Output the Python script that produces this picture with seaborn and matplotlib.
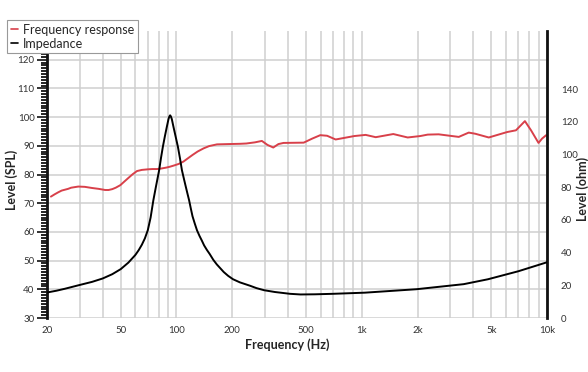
import matplotlib
matplotlib.use("Agg")
import matplotlib.pyplot as plt
from matplotlib.lines import Line2D
from matplotlib.ticker import FixedLocator, MultipleLocator, NullFormatter
import numpy as np
import pandas as pd
import seaborn as sns

# frequency response (dB SPL, left axis)
fr_freq = [21, 22, 23, 24, 26, 27, 29.5, 32, 35, 38, 41.2, 43, 45, 47, 49.8,
           52, 55, 58, 61.2, 65, 70, 74, 78.6, 83, 88, 92, 96.5, 103, 109,
           115, 122, 130, 140, 150, 165.5, 190, 221, 238, 265, 289, 310, 333,
           355, 378, 486, 540, 597, 650, 723, 912, 1050, 1190, 1480, 1770,
           2070, 2270, 2600, 3340, 3780, 4100, 4850, 6100, 6800, 7600, 8200,
           9000, 9400, 9900]
fr_level = [72.3, 73.1, 73.8, 74.4, 75.0, 75.4, 75.8, 75.7, 75.3, 75.0, 74.6,
            74.6, 74.9, 75.4, 76.3, 77.4, 78.8, 80.1, 81.2, 81.6, 81.8, 81.9,
            81.9, 82.1, 82.4, 82.7, 83.1, 83.7, 84.5, 85.6, 86.8, 88.0, 89.1,
            89.9, 90.5, 90.6, 90.7, 90.8, 91.2, 91.7, 90.3, 89.4, 90.6, 91.0,
            91.1, 92.5, 93.7, 93.5, 92.2, 93.4, 93.8, 93.0, 94.1, 92.9, 93.4,
            93.9, 94.0, 93.1, 94.6, 94.2, 92.9, 94.8, 95.4, 98.6, 95.4, 91.0,
            92.5, 93.7]

# impedance (ohm, right axis)
imp_freq = [20, 22.5, 25, 30, 35, 40, 45, 50, 55, 60, 62.5, 65, 67.5, 70,
            72.5, 75, 77.5, 80.6, 82.5, 84.4, 86.5, 88.7, 90.5, 91.5, 92.4,
            93.3, 94.4, 96.3, 98.5, 101.8, 104.5, 107, 109.5, 112, 114.5, 117,
            119.5, 122, 125.5, 129, 133, 137, 141, 146, 151, 158, 165, 180,
            190, 202, 220, 250, 270, 297, 340, 410, 467, 560, 700, 1040, 1970,
            3550, 4800, 7000, 10000]
imp_ohm = [15.6, 16.7, 17.9, 20.2, 22.1, 24.2, 26.8, 29.9, 33.9, 38.6, 41.5,
           44.8, 48.7, 53.7, 61.5, 72.0, 80.5, 90.4, 98.0, 104.7, 111.0, 117.0,
           121.6, 123.3, 124.0, 123.3, 121.6, 117.0, 112.0, 104.7, 97.5, 90.4,
           85.5, 80.8, 76.3, 72.0, 67.0, 62.3, 57.8, 53.7, 50.3, 47.4, 44.4,
           41.6, 39.2, 35.6, 32.8, 28.1, 25.8, 23.7, 21.8, 19.7, 18.3, 17.0,
           15.9, 14.8, 14.4, 14.5, 14.8, 15.5, 17.6, 20.7, 23.7, 28.6, 34.1]

x_major = [20, 50, 100, 200, 500, 1000, 2000, 5000, 10000]
x_labels = ["20", "50", "100", "200", "500", "1k", "2k", "5k", "10k"]
x_minor = [30, 40, 60, 70, 80, 90, 300, 400, 600, 700, 800, 900,
           3000, 4000, 6000, 7000, 8000, 9000]

RED = "#d8404a"

sns.set_style("white")
plt.rcParams["font.family"] = ["Lato", "DejaVu Sans"]
plt.rcParams["lines.solid_joinstyle"] = "round"

fig = plt.figure(figsize=(5.88, 3.72), dpi=100)
ax = fig.add_axes([47 / 588, 1 - 318 / 372, 500 / 588, 287 / 372])
ax2 = ax.twinx()

fr = pd.DataFrame({"freq": fr_freq, "level": fr_level})
imp = pd.DataFrame({"freq": imp_freq, "ohm": imp_ohm})
sns.lineplot(data=fr, x="freq", y="level", ax=ax, color=RED, lw=1.4,
             legend=False, zorder=3)
sns.lineplot(data=imp, x="freq", y="ohm", ax=ax2, color="black", lw=1.4,
             legend=False, zorder=3)

ax.set_xscale("log")
ax.set_xlim(20, 10000)
ax.set_ylim(30, 130)
ax2.set_ylim(0, 175.6)

ax.set_xticks(x_major, x_labels)
ax.xaxis.set_minor_locator(FixedLocator(x_minor))
ax.xaxis.set_minor_formatter(NullFormatter())
ax.set_yticks(np.arange(30, 130, 10))
ax.yaxis.set_minor_locator(MultipleLocator(1))

ax.grid(True, which="major", color="#cfcfcf", lw=1.1)
ax.grid(True, which="minor", axis="x", color="#cfcfcf", lw=1.1)
ax.set_axisbelow(True)

ax.tick_params(axis="x", which="both", length=0, labelsize=7, colors="#333333", pad=6)
ax.tick_params(axis="y", which="major", length=7, width=1.4, labelsize=7,
               colors="#333333", pad=2)
ax.tick_params(axis="y", which="minor", length=4.5, width=1.3, color="#111111")
ax2.set_yticks(np.arange(0, 141, 20))
ax2.tick_params(axis="y", length=0, labelsize=7, colors="#333333", pad=10)

for a in (ax, ax2):
    for side in ("top", "bottom"):
        a.spines[side].set_visible(False)
ax.spines["left"].set_linewidth(2)
ax.spines["left"].set_color("#111111")
ax.spines["right"].set_visible(False)
ax2.spines["left"].set_visible(False)
ax2.spines["right"].set_linewidth(2)
ax2.spines["right"].set_color("#111111")

ax.set_xlabel("Frequency (Hz)", fontsize=9, fontweight="bold")
ax.xaxis.set_label_coords(0.48, -0.07)
ax.set_ylabel("Level (SPL)", fontsize=9, fontweight="bold")
ax.yaxis.set_label_coords(-0.058, 0.48)
ax2.set_ylabel("Level (ohm)", fontsize=9, fontweight="bold")
ax2.yaxis.set_label_coords(1.058, 0.45)

handles = [Line2D([], [], color=RED, lw=1.2), Line2D([], [], color="black", lw=1.2)]
leg = fig.legend(handles, ["Frequency response", "Impedance"],
                 loc="upper left", bbox_to_anchor=(7 / 588, 1 - 20 / 372),
                 fontsize=9, frameon=True, fancybox=False, framealpha=1,
                 edgecolor="#999999", handlelength=0.6, handletextpad=0.4,
                 borderpad=0.3, labelspacing=0.15, borderaxespad=0)
leg.get_frame().set_linewidth(0.8)

fig.savefig("out.png", dpi=100)
